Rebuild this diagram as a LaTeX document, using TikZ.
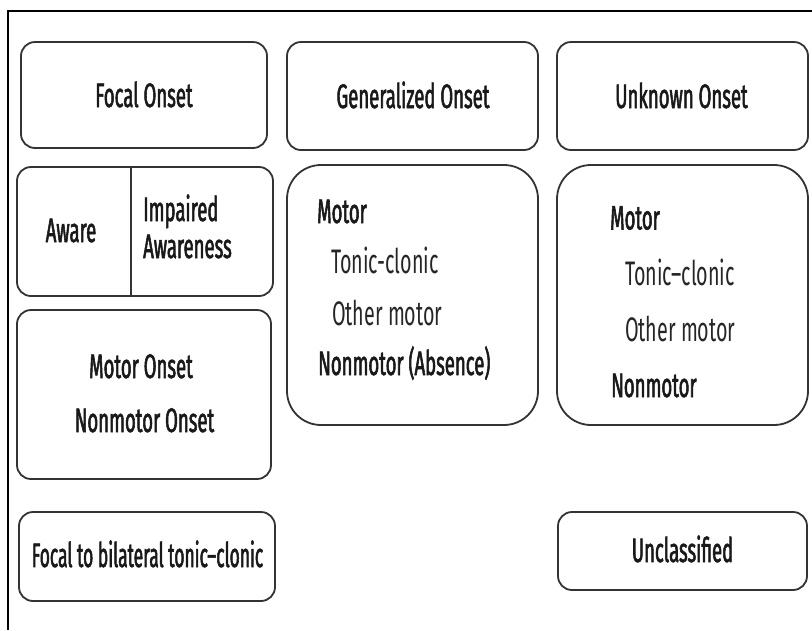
\documentclass[tikz,border=0pt]{standalone}
\usepackage{fontspec}
\setmainfont{Fira Sans}[FakeStretch=0.58]
\newfontfamily\medf{Fira Sans}[FakeStretch=0.545,FakeBold=1.6]
\begin{document}
\begin{tikzpicture}[x=1pt,y=-1pt,
  box/.style={draw=black!80, line width=1.8pt, rounded corners=14pt, inner sep=0pt},
  bigbox/.style={box, rounded corners=34pt},
  hdr/.style={anchor=base, inner sep=0pt, font=\medf\fontsize{34}{36}\selectfont, text=black!90},
  bold/.style={anchor=base west, inner sep=0pt, font=\medf\fontsize{34}{36}\selectfont, text=black!90},
  lite/.style={anchor=base west, inner sep=0pt, font=\fontsize{34}{36}\selectfont, text=black!85},
  frame/.style={draw=black, line width=1.8pt}]
\useasboundingbox (0,0) rectangle (812,630);
% frame
\coordinate (ftr) at (812,11);
\coordinate (ftl) at (8,11);
\coordinate (fbl) at (8,630);
\draw[frame] (ftr) -- (ftl) -- (fbl);
% top row
\node[box, minimum width=246pt, minimum height=106pt] (focal) at (144,95) {};
\node[hdr] (focalT) at (144,107) {Focal Onset};
\node[box, minimum width=251pt, minimum height=108pt] (gen) at (412.5,96) {};
\node[hdr] (genT) at (413,108) {Generalized Onset};
\node[box, minimum width=251pt, minimum height=108pt] (unk) at (682.5,96) {};
\node[hdr] (unkT) at (681.5,108) {Unknown Onset};
% aware box
\node[box, minimum width=256pt, minimum height=129pt] (aware) at (145,231.5) {};
\coordinate (divT) at (131,167);
\coordinate (divB) at (131,296);
\draw[black!80, line width=1.4pt] (divT) -- (divB);
\node[hdr] (awareT) at (71,242) {Aware};
\node[bold] (impT) at (143,221) {Impaired};
\node[bold] (impT2) at (143,258) {Awareness};
% motor onset box
\node[box, minimum width=254pt, minimum height=169pt] (motor) at (144,394.5) {};
\node[hdr] (motT1) at (141,378) {Motor Onset};
\node[hdr] (motT2) at (144.5,432) {Nonmotor Onset};
% generalized content
\node[bigbox, minimum width=251pt, minimum height=260pt] (genC) at (412.5,295) {};
\node[bold] (g1) at (317,223) {Motor};
\node[lite] (g2) at (331,273) {Tonic-clonic};
\node[lite] (g3) at (332,325) {Other motor};
\node[bold] (g4) at (318,375) {Nonmotor (Absence)};
% unknown content
\node[bigbox, minimum width=251pt, minimum height=260pt] (unkC) at (682.5,295) {};
\node[bold] (u1) at (610,229.5) {Motor};
\node[lite] (u2) at (625,285) {Tonic–clonic};
\node[lite] (u3) at (625,341) {Other motor};
\node[bold] (u4) at (611,397) {Nonmotor};
% bottom row
\node[box, minimum width=256pt, minimum height=89pt] (bil) at (147,556.5) {};
\node[hdr] (bilT) at (147.5,567) {\scalebox{0.94}[1]{Focal to bilateral tonic–clonic}};
\node[box, minimum width=249pt, minimum height=78pt] (uncl) at (682.5,551) {};
\node[hdr] (unclT) at (682.5,562) {Unclassified};
\end{tikzpicture}
\end{document}
